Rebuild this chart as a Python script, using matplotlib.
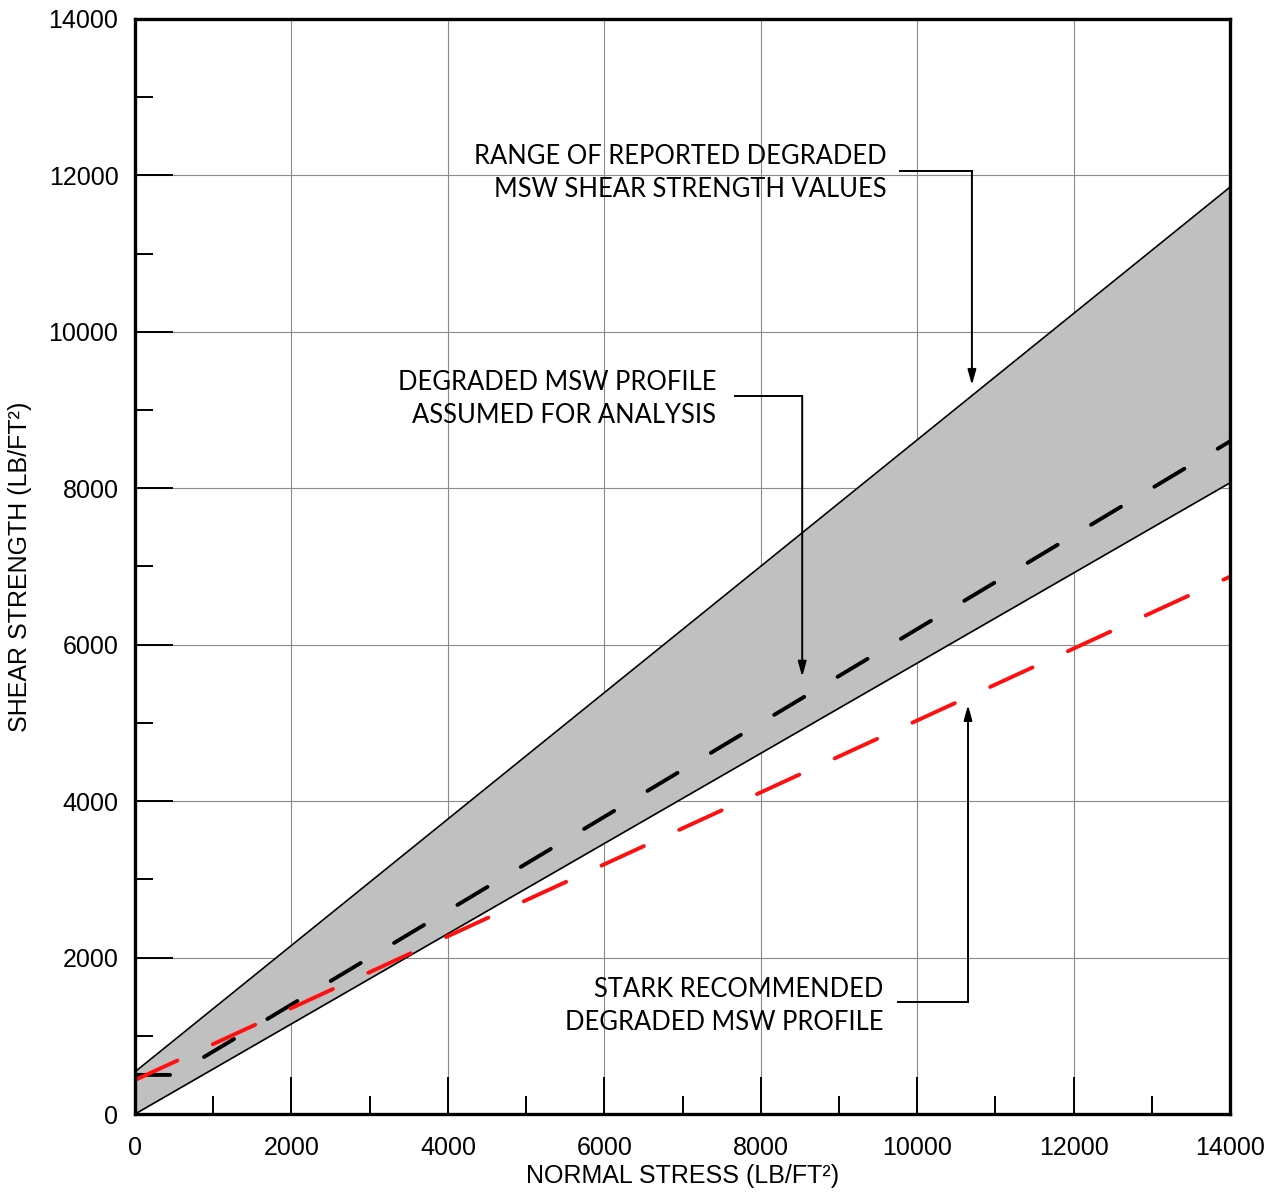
import matplotlib
matplotlib.use("Agg")
import matplotlib.pyplot as plt
import numpy as np

# envelope of reported degraded MSW strengths (lb/ft2)
x_env = [0, 14000]
upper_env = [540, 11850]
lower_env = [0, 8070]

# degraded MSW profile assumed for analysis
x_assumed = [0, 500, 14000]
y_assumed = [500, 500, 8600]

# Stark recommended degraded MSW profile
x_stark = [0, 14000]
y_stark = [435, 6870]

tick_font = "Liberation Sans"
note_font = "Lato"

fig = plt.figure(figsize=(12.79, 11.93), dpi=100)
ax = fig.add_axes([0.1056, 0.0662, 0.8561, 0.9179])

ax.fill_between(x_env, lower_env, upper_env, color="#c0c0c0", lw=0, zorder=1)
ax.plot(x_env, upper_env, color="black", lw=1.2, zorder=3)
ax.plot(x_env, lower_env, color="black", lw=1.2, zorder=3)

ax.plot(x_assumed, y_assumed, color="black", lw=2.8, dashes=(9, 10),
        dash_capstyle="round", zorder=4)
ax.plot(x_stark, y_stark, color="#ff1010", lw=2.8, dashes=(12, 10),
        dash_capstyle="round", zorder=4)

ax.set_xlim(0, 14000)
ax.set_ylim(0, 14000)
ax.set_xticks(np.arange(0, 14001, 2000))
ax.set_yticks(np.arange(0, 14001, 2000))
ax.set_xticks(np.arange(1000, 14000, 2000), minor=True)
ax.set_yticks(np.arange(1000, 14000, 2000), minor=True)
ax.grid(True, which="major", color="#8a8a8a", lw=0.8, zorder=0)
ax.set_axisbelow(True)

ax.tick_params(which="major", direction="in", length=27, width=1.4,
               labelsize=18, top=False, right=False)
ax.tick_params(which="minor", direction="in", length=13, width=1.4,
               top=False, right=False)
ax.tick_params(axis="x", which="major", pad=16)
ax.tick_params(axis="y", which="major", pad=12)
for lab in ax.get_xticklabels() + ax.get_yticklabels():
    lab.set_fontfamily(tick_font)

for s in ax.spines.values():
    s.set_linewidth(2.4)
    s.set_zorder(6)

ax.set_xlabel("NORMAL STRESS (LB/FT²)", fontsize=18, family=tick_font, labelpad=3)
ax.set_ylabel("SHEAR STRENGTH (LB/FT²)", fontsize=18, family=tick_font, labelpad=12)

# callouts
arrow = dict(arrowstyle="-|>,head_length=0.9,head_width=0.25", color="black",
             lw=1.4, shrinkA=0, shrinkB=0)

ax.text(9610, 12030, "RANGE OF REPORTED DEGRADED\nMSW SHEAR STRENGTH VALUES",
        ha="right", va="center", fontsize=18.4, family=note_font,
        linespacing=1.4, zorder=7)
ax.plot([9780, 10700], [12050, 12050], color="black", lw=1.4, zorder=7)
ax.annotate("", xy=(10700, 9320), xytext=(10700, 12050), arrowprops=arrow, zorder=7)

ax.text(7430, 9140, "DEGRADED MSW PROFILE\nASSUMED FOR ANALYSIS",
        ha="right", va="center", fontsize=18.4, family=note_font,
        linespacing=1.4, zorder=7)
ax.plot([7670, 8530], [9180, 9180], color="black", lw=1.4, zorder=7)
ax.annotate("", xy=(8530, 5590), xytext=(8530, 9180), arrowprops=arrow, zorder=7)

ax.text(9565, 1380, "STARK RECOMMENDED\nDEGRADED MSW PROFILE",
        ha="right", va="center", fontsize=18.4, family=note_font,
        linespacing=1.4, zorder=7)
ax.plot([9760, 10650], [1430, 1430], color="black", lw=1.4, zorder=7)
ax.annotate("", xy=(10650, 5230), xytext=(10650, 1430), arrowprops=arrow, zorder=7)

fig.savefig("out.png", dpi=100)
